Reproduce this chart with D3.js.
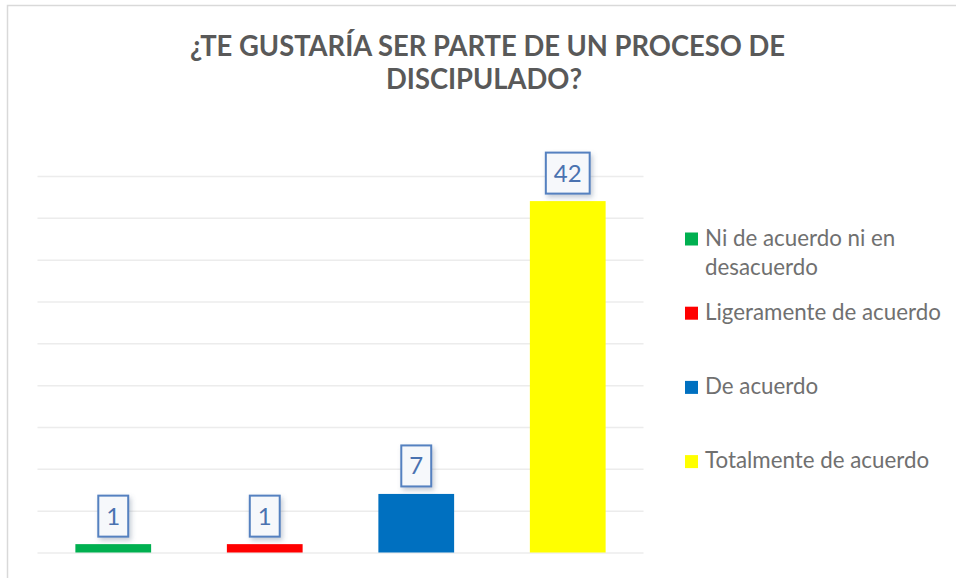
<!DOCTYPE html>
<html>
<head>
<meta charset="utf-8">
<script src="https://cdn.jsdelivr.net/npm/d3@7"></script>
<style>
  html, body { margin: 0; padding: 0; background: #fff; }
  svg { display: block; }
</style>
</head>
<body>
<svg id="chart" width="956" height="578"></svg>
<script>
const titleLines = ["¿TE GUSTARÍA SER PARTE DE UN PROCESO DE", "DISCIPULADO?"];
const categories = ["Ni de acuerdo ni en desacuerdo", "Ligeramente de acuerdo", "De acuerdo", "Totalmente de acuerdo"];
const values = [1, 1, 7, 42];
const colors = ["#00B050", "#FF0000", "#0070C0", "#FFFF00"];
const yTicks = [0, 5, 10, 15, 20, 25, 30, 35, 40, 45];

const svg = d3.select("#chart");
const W = 956, H = 578;

// defs: shadow for data labels
const defs = svg.append("defs");
const f = defs.append("filter").attr("id", "shadow").attr("x", "-50%").attr("y", "-50%").attr("width", "200%").attr("height", "200%");
f.append("feDropShadow").attr("dx", 2).attr("dy", 3).attr("stdDeviation", 2.5)
  .attr("flood-color", "#5a6e8c").attr("flood-opacity", 0.35);

// chart frame (extends beyond right/bottom edges)
svg.append("rect").attr("x", 7.5).attr("y", 5.5).attr("width", W + 20).attr("height", H + 20)
  .attr("fill", "#fff").attr("stroke", "#d9d9d9").attr("stroke-width", 1.5);

// title (condensed to match the original narrow bold face)
const titleSize = 29;
const titleG = svg.append("g").attr("font-family", "Lato, 'Open Sans', sans-serif")
  .attr("font-weight", "bold").attr("fill", "#595959").attr("text-anchor", "middle").attr("font-size", titleSize);
const t1 = titleG.append("text").attr("x", 487.5).attr("y", 56).text(titleLines[0]);
const ratio = 595 / t1.node().getComputedTextLength();
t1.attr("textLength", 595).attr("lengthAdjust", "spacingAndGlyphs");
const t2 = titleG.append("text").attr("x", 484).attr("y", 88.5).text(titleLines[1]);
t2.attr("textLength", t2.node().getComputedTextLength() * ratio).attr("lengthAdjust", "spacingAndGlyphs");

// scales
const x = d3.scaleBand().domain(categories).range([37.5, 643.5]).paddingInner(0.5).paddingOuter(0.25);
const y = d3.scaleLinear().domain([0, 45]).range([552.5, 176]);

// gridlines via axis
const grid = svg.append("g").attr("transform", "translate(37.5,0)")
  .call(d3.axisLeft(y).tickValues(yTicks).tickSize(-606).tickFormat(""));
grid.select(".domain").remove();
grid.selectAll(".tick line").attr("stroke", "#ececec").attr("stroke-width", 1.5);

// bars
svg.append("g").selectAll("rect").data(values).join("rect")
  .attr("x", (d, i) => x(categories[i]))
  .attr("width", x.bandwidth())
  .attr("y", d => y(d))
  .attr("height", d => y(0) - y(d))
  .attr("fill", (d, i) => colors[i]);

// data labels
const lblG = svg.append("g");
values.forEach((v, i) => {
  const cx = x(categories[i]) + x.bandwidth() / 2;
  const g = lblG.append("g");
  const txt = g.append("text").attr("font-family", "Lato, 'Open Sans', sans-serif").attr("font-size", 24)
    .attr("fill", "#4a72b0").attr("text-anchor", "middle").text(v);
  const tw = txt.node().getComputedTextLength();
  const bw = tw + 16, bh = 41;
  const by = y(v) - 7.5 - bh;
  g.insert("rect", "text").attr("x", cx - bw / 2).attr("y", by).attr("width", bw).attr("height", bh)
    .attr("fill", "#f6f8fb").attr("stroke", "#5581c0").attr("stroke-width", 2).attr("filter", "url(#shadow)");
  txt.attr("x", cx).attr("y", by + bh / 2 + 8.5);
});

// legend
const legG = svg.append("g").attr("font-family", "Lato, 'Open Sans', sans-serif").attr("fill", "#707070");
const probe = legG.append("text").attr("font-size", 20).text(categories[1]);
const legSize = 20 * 236 / probe.node().getComputedTextLength();
probe.remove();
const maxW = 242;
categories.forEach((c, i) => {
  const top = 232.5 + i * 74.2;
  legG.append("rect").attr("x", 685).attr("y", top).attr("width", 13).attr("height", 13).attr("fill", colors[i]);
  const t = legG.append("text").attr("x", 705).attr("y", top + 13).attr("font-size", legSize);
  // word wrap
  const words = c.split(" ");
  let line = [];
  let ts = t.append("tspan").attr("x", 705).attr("dy", 0);
  words.forEach(wd => {
    line.push(wd);
    ts.text(line.join(" "));
    if (ts.node().getComputedTextLength() > maxW && line.length > 1) {
      line.pop();
      ts.text(line.join(" "));
      line = [wd];
      ts = t.append("tspan").attr("x", 705).attr("dy", 29).text(wd);
    }
  });
});
</script>
</body>
</html>
